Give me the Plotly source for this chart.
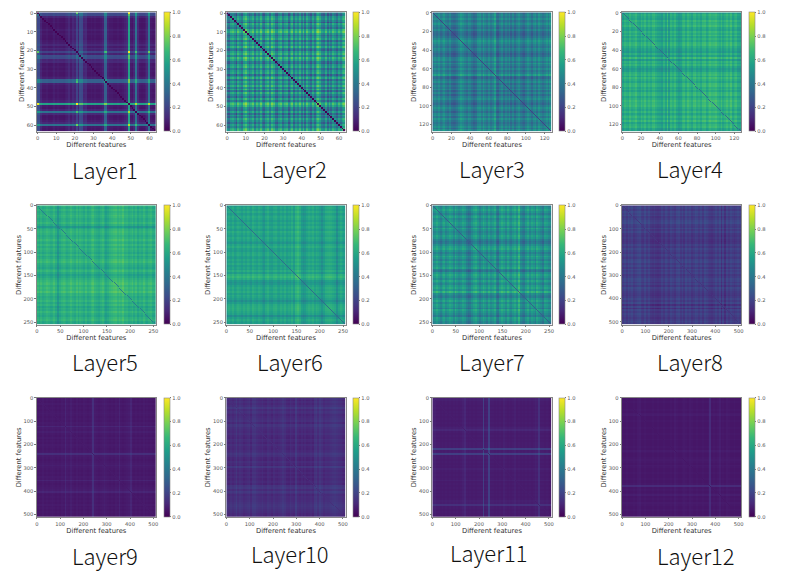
import numpy as np
import plotly.graph_objects as go

# one value per band of features (row + column add up to the cell)
layer1 = [.19,.19,.07,.03,.03,.04,.025,.025,.03,.05, .03,.04,.03,.03,.025,.04,.05,.08,.04,.08,
          .06,.17,.06,.20,.19,.07,.08,.03,.03,.04, .03,.04,.03,.03,.04,.06,.27,.27,.06,.04,
          .04,.03,.03,.04,.03,.03,.04,.06,.08,.54, .04,.03,.07,.34,.08,.03,.025,.03,.05,.08,
          .34,.04,.03,.03]
layer2 = [.18,.12,.27,.31,.22,.10,.33,.24,.16,.35, .42,.28,.17,.25,.34,.14,.30,.21,.36,.19,
          .13,.29,.36,.20,.39,.31,.15,.12,.28,.33, .16,.27,.31,.11,.24,.35,.14,.29,.20,.34,
          .17,.32,.13,.33,.21,.12,.30,.16,.34,.42, .33,.18,.14,.30,.11,.26,.15,.31,.23,.13,
          .28,.19,.32,.37]
layer3 = [.18,.25,.21,.27,.19,.23,.28,.20,.16,.23, .14,.12,.13,.17,.24,.30,.26,.21,.17,.25,
          .23,.17,.12,.15,.25,.27,.19,.29,.22,.17, .25,.18,.23,.33,.15,.12,.20,.26,.16,.23,
          .18,.25,.15,.23,.14,.21,.26,.19,.16,.13, .20,.27,.22,.15,.24,.27,.18,.28,.22,.17,
          .21,.27,.19,.28]
layer4 = [.25,.32,.29,.27,.34,.29,.31,.35,.28,.26, .33,.29,.34,.27,.32,.28,.34,.35,.30,.27,
          .26,.23,.31,.24,.36,.23,.33,.29,.34,.27, .23,.25,.32,.34,.28,.35,.31,.27,.34,.35,
          .29,.32,.27,.34,.35,.28,.32,.36,.33,.34, .36,.31,.28,.34,.27,.31,.35,.30,.36,.27,
          .32,.34,.27,.26]
layer5 = [.32,.29,.33,.29,.31,.34,.32,.29,.30,.34, .29,.21,.28,.32,.34,.32,.29,.31,.35,.31,
          .29,.34,.29,.33,.31,.28,.33,.28,.30,.34, .36,.31,.29,.27,.31,.34,.29,.25,.28,.32,
          .34,.36,.37,.33,.36,.34,.38,.32,.33,.29, .31,.34,.29,.33,.27,.31,.29,.34,.30,.28,
          .32,.34,.29,.28]
layer6 = [.26,.30,.27,.31,.26,.28,.31,.29,.26,.30, .27,.31,.29,.26,.32,.29,.27,.31,.29,.26,
          .23,.29,.32,.27,.26,.30,.31,.27,.26,.30, .27,.31,.26,.29,.27,.32,.26,.34,.37,.32,
          .25,.22,.24,.28,.31,.29,.32,.27,.31,.29, .26,.21,.26,.31,.32,.33,.32,.30,.28,.20,
          .27,.31,.28,.26]
layer7 = [.21,.26,.31,.25,.19,.26,.30,.22,.26,.31, .28,.21,.31,.25,.20,.23,.29,.26,.18,.13,
          .15,.23,.29,.32,.25,.18,.24,.31,.26,.20, .29,.22,.26,.31,.18,.14,.26,.32,.28,.22,
          .31,.25,.21,.28,.32,.25,.38,.22,.18,.16, .25,.31,.22,.29,.26,.19,.31,.26,.22,.16,
          .28,.26,.21,.20]
layer8 = [.08,.11,.08,.12,.10,.12,.08,.10,.12,.13, .09,.08,.12,.08,.11,.07,.06,.08,.06,.05,
          .06,.10,.07,.11,.09,.07,.11,.09,.07,.11, .12,.08,.11,.07,.12,.09,.11,.07,.09,.12,
          .11,.08,.11,.07,.12,.10,.08,.07,.06,.08, .11,.08,.12,.04,.11,.04,.11,.08,.11,.09,
          .07,.09,.11,.09]
layer9 = [.03,.035,.03,.04,.03,.035,.03,.035,.04,.035, .03,.035,.03,.04,.035,.07,.04,.035,.05,.035,
          .03,.04,.03,.035,.03,.04,.035,.03,.035,.04, .10,.04,.035,.03,.035,.04,.05,.04,.035,.03,
          .035,.03,.04,.035,.065,.035,.03,.035,.04,.045, .07,.035,.03,.035,.03,.035,.03,.04,.03,.035,
          .03,.035,.03,.03]
layer10 = [.07,.05,.07,.055,.07,.10,.06,.08,.07,.05, .06,.07,.08,.05,.09,.09,.07,.06,.055,.07,
           .05,.045,.07,.06,.045,.07,.055,.05,.06,.07, .09,.075,.05,.045,.07,.055,.045,.10,.055,.045,
           .06,.045,.06,.045,.05,.06,.045,.09,.10,.065, .10,.08,.055,.07,.065,.07,.08,.09,.095,.085,
           .075,.07,.055,.05]
layer11 = [.05,.05,.04,.04,.035,.04,.035,.04,.035,.04, .035,.04,.035,.04,.035,.04,.05,.07,.04,.035,
           .04,.035,.04,.035,.04,.04,.04,.15,.04,.045, .15,.04,.04,.035,.04,.035,.04,.035,.05,.04,
           .035,.04,.035,.04,.05,.035,.04,.035,.04,.035, .04,.035,.04,.035,.04,.05,.045,.10,.04,.04,
           .035,.04,.035,.03]
layer12 = [.03,.03,.035,.03,.03,.03,.035,.03,.04,.045, .03,.03,.035,.03,.03,.03,.035,.03,.03,.035,
           .03,.03,.035,.03,.03,.03,.035,.03,.045,.035, .03,.03,.035,.04,.035,.03,.04,.035,.03,.03,
           .035,.03,.03,.035,.03,.03,.035,.09,.03,.035, .03,.035,.05,.03,.035,.03,.04,.035,.03,.03,
           .035,.03,.03,.03]

profiles = [layer1, layer2, layer3, layer4, layer5, layer6,
            layer7, layer8, layer9, layer10, layer11, layer12]
features = [64, 64, 128, 128, 256, 256, 256, 512, 512, 512, 512, 512]
tick_steps = [10, 10, 20, 20, 50, 50, 50, 100, 100, 100, 100, 100]
diagonals = [0.0, 0.0, 0.2, 0.35, 0.42, 0.35, 0.3, 0.15, 0.07, 0.13, 0.08, 0.06]
names = ["Layer%d" % i for i in range(1, 13)]

# a few crossings that stand out in Layer1: (row, column, value)
layer1_hot = [(49, 21, 1.0), (49, 0, .98), (49, 60, .9), (49, 37, .8), (49, 36, .8),
              (21, 0, .75), (60, 21, .78), (53, 21, .7), (37, 21, .7), (21, 36, .65)]

# pixel boxes of the panels
W, H = 789, 575
panel_left = [36.7, 226.3, 432.3, 622]
panel_top = [12.3, 205.3, 397.7]
panel_size = 119.3
name_x = [105, 294, 492, 690, 105, 290, 492, 690, 105, 290, 489, 696]
name_y = [169, 168, 168, 168, 361, 361, 361, 361, 555, 553, 552, 555]


def build_matrix(profile, cells, diag):
    p = np.repeat(np.array(profile), cells // len(profile))
    z = p[:, None] + p[None, :]
    np.fill_diagonal(z, diag)
    return z


fig = go.Figure()
tick_font = dict(family="DejaVu Sans", size=5.2, color="#555555")
label_font = dict(family="DejaVu Sans", size=6.8, color="#333333")

for i in range(12):
    n = features[i]
    cells = min(n, 128)
    step = n / cells
    z = build_matrix(profiles[i], cells, diagonals[i])
    if i == 0:
        for r, c, v in layer1_hot:
            z[r, c] = v
            z[c, r] = v
    left = panel_left[i % 4]
    top = panel_top[i // 4]
    suffix = "" if i == 0 else str(i + 1)
    fig.add_trace(go.Heatmap(
        z=z,
        x0=(step - 1) / 2,
        dx=step,
        y0=(step - 1) / 2,
        dy=step,
        zmin=0,
        zmax=1,
        colorscale="Viridis",
        xaxis="x" + suffix,
        yaxis="y" + suffix,
        colorbar=dict(
            x=(left + panel_size + 7.5) / W,
            xanchor="left",
            y=1 - top / H,
            yanchor="top",
            len=panel_size / H,
            thickness=6,
            xpad=0,
            ypad=0,
            tick0=0,
            dtick=0.2,
            tickformat=".1f",
            ticks="outside",
            ticklen=1.5,
            tickwidth=0.5,
            tickcolor="#777777",
            tickfont=tick_font,
            outlinecolor="#888888",
            outlinewidth=0.6,
        ),
    ))
    fig.update_layout({
        "xaxis" + suffix: dict(
            domain=[left / W, (left + panel_size) / W],
            range=[-0.5, n - 0.5],
            anchor="y" + suffix,
            tick0=0,
            dtick=tick_steps[i],
            ticks="outside",
            ticklen=1.5,
            tickwidth=0.5,
            tickcolor="#777777",
            tickfont=tick_font,
            showgrid=False,
            zeroline=False,
            showline=True,
            mirror=True,
            linecolor="#888888",
            linewidth=0.6,
            title=dict(text="Different features", font=label_font, standoff=2),
        ),
        "yaxis" + suffix: dict(
            domain=[1 - (top + panel_size) / H, 1 - top / H],
            range=[n - 0.5, -0.5],
            anchor="x" + suffix,
            tick0=0,
            dtick=tick_steps[i],
            ticks="outside",
            ticklen=1.5,
            tickwidth=0.5,
            tickcolor="#777777",
            tickfont=tick_font,
            showgrid=False,
            zeroline=False,
            showline=True,
            mirror=True,
            linecolor="#888888",
            linewidth=0.6,
            title=dict(text="Different features", font=label_font, standoff=1),
        ),
    })
    fig.add_annotation(
        text=names[i],
        xref="paper", yref="paper",
        x=name_x[i] / W,
        y=1 - name_y[i] / H,
        xanchor="center", yanchor="middle",
        showarrow=False,
        font=dict(family="Noto Sans CJK SC", size=22, color="#111111", weight=300),
    )

fig.update_layout(
    width=W,
    height=H,
    margin=dict(l=0, r=0, t=0, b=0, autoexpand=False),
    paper_bgcolor="white",
    plot_bgcolor="white",
    showlegend=False,
)
fig.write_html("out.html", config=dict(displayModeBar=False),
               post_script="document.body.style.margin='0';")
